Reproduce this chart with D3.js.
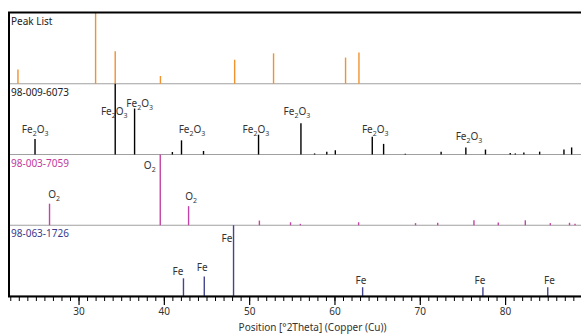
<!DOCTYPE html>
<html>
    <head>
        <meta charset="utf-8">
        <script src="https://cdn.jsdelivr.net/npm/d3@7"></script>
    </head>
    <style>
        body { margin: 0; background: #fff; }
        text { font-family: 'Noto Sans', 'Open Sans', sans-serif; }
    </style>
    <body>
        <div id="canvas"></div>
        <script>
            // panels, top to bottom
            var panelNames = ['Peak List', '98-009-6073', '98-003-7059', '98-063-1726'];

            // peak list (observed)
            var peakListPos = [22.9, 32.0, 34.3, 39.6, 48.3, 52.86, 61.3, 62.87];
            var peakListInt = [20, 100, 46, 11, 34, 43, 37, 44];

            // 98-009-6073 Fe2O3
            var hemPos = [24.9, 34.3, 36.57, 41.0, 42.07, 44.65, 51.1, 56.07, 57.67, 59.1, 60.1,
                          64.43, 65.76, 68.3, 72.5, 75.4, 77.7, 80.6, 81.2, 82.2, 84.05, 86.9, 87.8];
            var hemInt = [22, 100, 65, 3.5, 20, 5, 28, 44, 1.5, 4, 6,
                          25, 15, 1, 4, 10, 7, 2, 1.5, 3, 4, 7, 10];
            var hemLabelPos = [24.92, 34.19, 37.17, 43.3, 50.79, 55.6, 64.78, 75.77];
            var hemLabelInt = [36, 61, 72.6, 35.7, 35.7, 61, 35.7, 25.4];

            // 98-003-7059 O2
            var oxyPos = [26.6, 39.58, 42.9, 51.2, 54.85, 56.0, 62.83, 69.5, 72.1, 76.35, 79.2, 82.37, 85.3, 87.55, 88.2];
            var oxyInt = [30.5, 100, 27, 6.6, 4.2, 2, 4.2, 3, 3.5, 7, 4, 7, 3, 3.5, 2];
            var oxyLabelPos = [27.15, 38.35, 43.2];
            var oxyLabelInt = [43.7, 85, 41];

            // 98-063-1726 Fe
            var fePos = [42.3, 44.74, 48.17, 63.3, 77.4, 85.0];
            var feInt = [25, 27.5, 100, 12.4, 12.4, 12.4];
            var feLabelPos = [41.65, 44.5, 47.4, 63.1, 77.06, 85.2];
            var feLabelInt = [34.7, 39.6, 81, 21.4, 21.4, 21.4];

            var majorTicks = [30, 40, 50, 60, 70, 80];
            var minorTicks = d3.range(22, 93, 1);
            var xTitle = 'Position [°2Theta] (Copper (Cu))';

            const w = 581;
            const h = 335;

            const svg = d3.select('#canvas')
                .append('svg')
                .attr('width', w)
                .attr('height', h);

            var x = d3.scaleLinear().domain([21.85, 93.0]).range([9, 616]);
            var band = d3.scaleBand().domain(panelNames).range([13, 296]).paddingInner(0);

            var panels = [
                { name: panelNames[0], pos: peakListPos, val: peakListInt, color: '#f0922e', title: '#222' },
                { name: panelNames[1], pos: hemPos, val: hemInt, color: '#000', title: '#222',
                  lPos: hemLabelPos, lVal: hemLabelInt, label: ['Fe', '2', 'O', '3'] },
                { name: panelNames[2], pos: oxyPos, val: oxyInt, color: '#c443a4', title: '#c0399c',
                  lPos: oxyLabelPos, lVal: oxyLabelInt, label: ['O', '2'] },
                { name: panelNames[3], pos: fePos, val: feInt, color: '#45458f', title: '#3a3a8a',
                  lPos: feLabelPos, lVal: feLabelInt, label: ['Fe'] }
            ];

            panels.forEach(function(p) {
                var top = band(p.name);
                var bottom = top + band.bandwidth();
                var y = d3.scaleLinear().domain([0, 100]).range([bottom, top]);
                var g = svg.append('g');

                // baseline
                g.append('line')
                    .attr('x1', 9).attr('x2', w)
                    .attr('y1', bottom).attr('y2', bottom)
                    .attr('stroke', '#a0a0a0')
                    .attr('stroke-width', 1.2);

                g.selectAll('line.peak')
                    .data(p.pos)
                    .enter()
                    .append('line')
                    .attr('class', 'peak')
                    .attr('x1', d => x(d)).attr('x2', d => x(d))
                    .attr('y1', bottom)
                    .attr('y2', (d, i) => y(p.val[i]))
                    .attr('stroke', p.color)
                    .attr('stroke-width', 1.4);

                g.append('text')
                    .attr('x', 11)
                    .attr('y', top + 12)
                    .attr('font-size', '10px')
                    .attr('fill', p.title)
                    .text(p.name);

                if (p.lPos) {
                    var t = g.selectAll('text.lbl')
                        .data(p.lPos)
                        .enter()
                        .append('text')
                        .attr('class', 'lbl')
                        .attr('x', d => x(d))
                        .attr('y', (d, i) => y(p.lVal[i]) + 3.5)
                        .attr('text-anchor', 'middle')
                        .attr('font-size', '10px')
                        .attr('fill', '#333');
                    p.label.forEach(function(part, k) {
                        var sub = k % 2 == 1;
                        t.append('tspan')
                            .attr('font-size', sub ? '7px' : '10px')
                            .attr('dy', k == 0 ? 0 : (sub ? 3 : -3))
                            .text(part);
                    });
                }
            });

            // frame
            svg.append('line')
                .attr('x1', 8).attr('x2', w).attr('y1', 12.5).attr('y2', 12.5)
                .attr('stroke', '#000').attr('stroke-width', 2);
            svg.append('line')
                .attr('x1', 9).attr('x2', 9).attr('y1', 12).attr('y2', 297)
                .attr('stroke', '#000').attr('stroke-width', 2);
            svg.append('line')
                .attr('x1', 8).attr('x2', w).attr('y1', 296.5).attr('y2', 296.5)
                .attr('stroke', '#000').attr('stroke-width', 2);

            // axis
            var minorAxis = d3.axisBottom(x).tickValues(minorTicks).tickSize(4).tickFormat('');
            var majorAxis = d3.axisBottom(x).tickValues(majorTicks).tickSize(8).tickPadding(3);

            svg.append('g').attr('transform', 'translate(0,297)').call(minorAxis)
                .call(g => g.select('.domain').remove())
                .selectAll('line').attr('stroke', '#000');
            var ax = svg.append('g').attr('transform', 'translate(0,297)').call(majorAxis);
            ax.select('.domain').remove();
            ax.selectAll('line').attr('stroke', '#000').attr('stroke-width', 1.2);
            ax.selectAll('text')
                .attr('font-size', '10px')
                .attr('font-family', "'Noto Sans', sans-serif")
                .attr('fill', '#333');

            svg.append('text')
                .attr('x', (x.range()[0] + x.range()[1]) / 2)
                .attr('y', 331)
                .attr('text-anchor', 'middle')
                .attr('font-size', '10px')
                .attr('fill', '#333')
                .text(xTitle);
        </script>
    </body>
</html>
